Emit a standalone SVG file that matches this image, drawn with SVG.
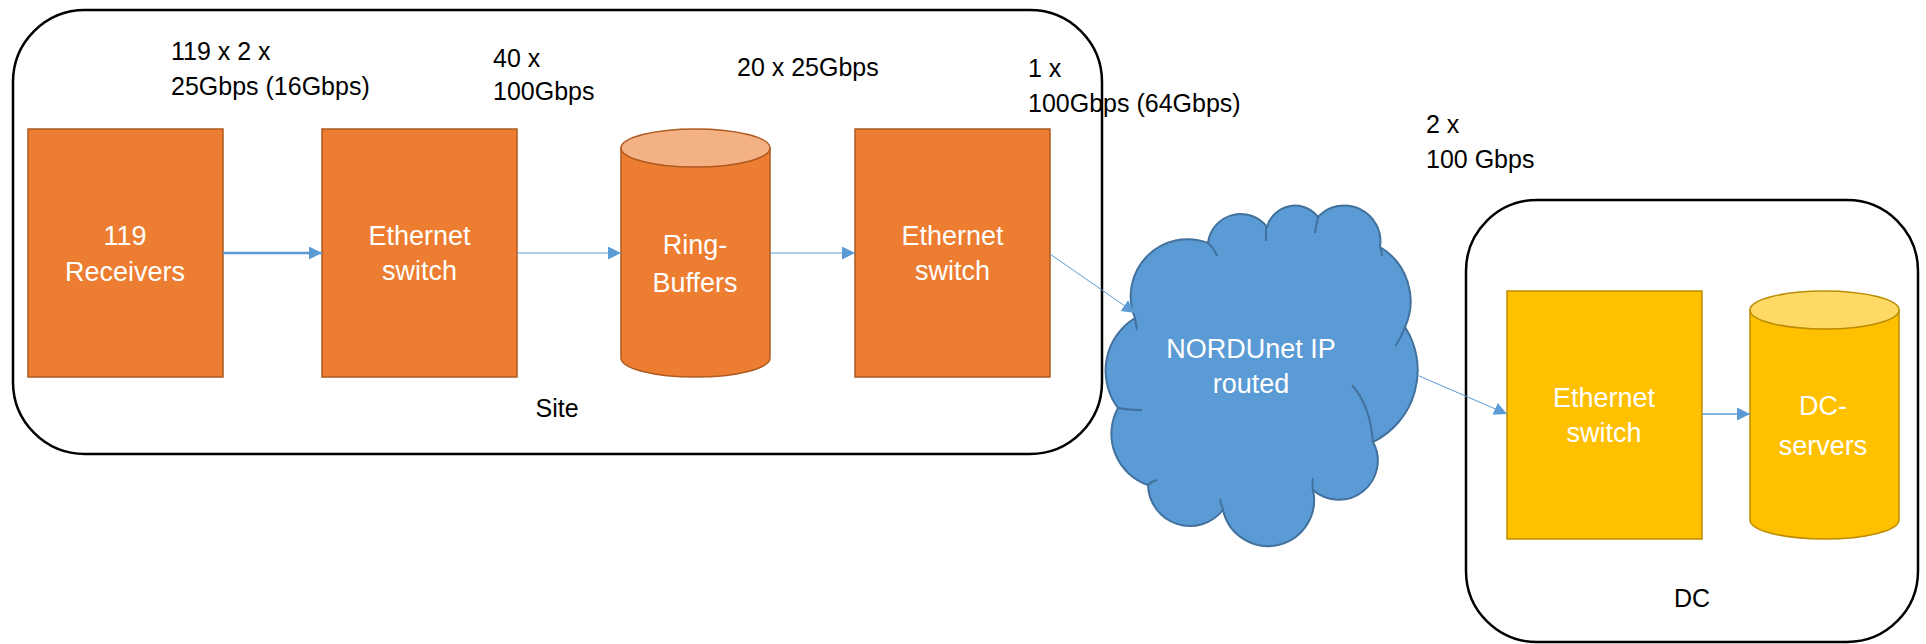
<svg xmlns="http://www.w3.org/2000/svg" width="1926" height="644" viewBox="0 0 1926 644">
<style>
.box{fill:none;stroke:#000;stroke-width:2.5}
.org{fill:#ED7D31;stroke:#AE5A21;stroke-width:1.5}
.orgTop{fill:#F4B183;stroke:#AE5A21;stroke-width:1.5}
.yel{fill:#FFC000;stroke:#BC8C00;stroke-width:1.5}
.yelTop{fill:#FFD966;stroke:#BC8C00;stroke-width:1.5}
.cloud{fill:#5B9BD5;stroke:#41719C;stroke-width:2}
.tail{fill:none;stroke:#41719C;stroke-width:2}
.lbl{font-family:"Liberation Sans",Arial,sans-serif;font-size:25px;fill:#000}
.nt{font-family:"Liberation Sans",Arial,sans-serif;font-size:27px;fill:#fff;text-anchor:middle}
.cn{stroke:#5B9BD5;stroke-width:1;fill:none;marker-end:url(#ah)}
</style>
<defs>
<marker id="ah" markerUnits="userSpaceOnUse" markerWidth="14" markerHeight="14" refX="13" refY="6.5" orient="auto" viewBox="0 0 14 14">
<path d="M0,0 L13,6.5 L0,13 Z" fill="#5B9BD5"/>
</marker>
</defs>
<g id="site">
<rect class="box" x="13" y="10" width="1089" height="444" rx="72" ry="72"/>
<text class="lbl" x="557" y="417" text-anchor="middle">Site</text>
</g>
<g id="dc">
<rect class="box" x="1466" y="200" width="452" height="442" rx="71" ry="71"/>
<text class="lbl" x="1692" y="607" text-anchor="middle">DC</text>
</g>
<g id="labels">
<text class="lbl" x="171" y="60">119 x 2 x</text>
<text class="lbl" x="171" y="95">25Gbps (16Gbps)</text>
<text class="lbl" x="493" y="67">40 x</text>
<text class="lbl" x="493" y="100">100Gbps</text>
<text class="lbl" x="737" y="76">20 x 25Gbps</text>
<text class="lbl" x="1028" y="77">1 x</text>
<text class="lbl" x="1028" y="112">100Gbps (64Gbps)</text>
<text class="lbl" x="1426" y="133">2 x</text>
<text class="lbl" x="1426" y="168">100 Gbps</text>
</g>
<g id="receivers">
<rect class="org" x="28" y="129" width="195" height="248"/>
<text class="nt" x="125" y="245">119</text>
<text class="nt" x="125" y="281">Receivers</text>
</g>
<g id="switch1">
<rect class="org" x="322" y="129" width="195" height="248"/>
<text class="nt" x="419.5" y="245">Ethernet</text>
<text class="nt" x="419.5" y="280">switch</text>
</g>
<g id="ringbuffers">
<path class="org" d="M621,148 L621,358 A74.5,19 0 0 0 770,358 L770,148 Z"/>
<ellipse class="orgTop" cx="695.5" cy="148" rx="74.5" ry="19"/>
<text class="nt" x="695" y="254">Ring-</text>
<text class="nt" x="695" y="292">Buffers</text>
</g>
<g id="switch2">
<rect class="org" x="855" y="129" width="195" height="248"/>
<text class="nt" x="952.5" y="245">Ethernet</text>
<text class="nt" x="952.5" y="280">switch</text>
</g>
<g id="nordunet">
<path class="cloud" d="M1135,318 A57,57 0 0 1 1208,243 A33,33 0 0 1 1267,227 A29,29 0 0 1 1318,217 A36,36 0 0 1 1380,247 A63,63 0 0 1 1405,327 A80,80 0 0 1 1373,442 A39,39 0 0 1 1313,490 A46,46 0 0 1 1223,510 A42,42 0 0 1 1148,485 A54,54 0 0 1 1118,408 A62,62 0 0 1 1135,318 Z"/>
<path class="tail" d="M1135,318 Q1136,323 1137,330 M1208,243 Q1214,248 1217,256 M1266,227 Q1266,234 1266,241 M1318,217 Q1316,225 1315,233 M1380,247 Q1382,251 1382,256 M1405,327 Q1401,338 1395,346 M1352,385 Q1370,405 1373,442 M1313,490 Q1312,484 1313,478 M1223,510 Q1221,504 1220,499 M1148,485 Q1152,481 1157,480 M1118,408 Q1128,410 1142,410"/>
<text class="nt" x="1251" y="358">NORDUnet IP</text>
<text class="nt" x="1251" y="393">routed</text>
</g>
<g id="dcswitch">
<rect class="yel" x="1507" y="291" width="195" height="248"/>
<text class="nt" x="1604" y="407">Ethernet</text>
<text class="nt" x="1604" y="442">switch</text>
</g>
<g id="dcservers">
<path class="yel" d="M1750,310 L1750,520 A74.5,19 0 0 0 1899,520 L1899,310 Z"/>
<ellipse class="yelTop" cx="1824.5" cy="310" rx="74.5" ry="19"/>
<text class="nt" x="1823" y="415">DC-</text>
<text class="nt" x="1823" y="455">servers</text>
</g>
<g id="connectors">
<line class="cn" x1="223" y1="253" x2="322" y2="253" style="stroke-width:2.5"/>
<line class="cn" x1="517" y1="253" x2="621" y2="253"/>
<line class="cn" x1="770" y1="253" x2="855" y2="253"/>
<line class="cn" x1="1050" y1="254" x2="1135" y2="313"/>
<line class="cn" x1="1417" y1="375" x2="1507" y2="414"/>
<line class="cn" x1="1702" y1="414" x2="1750" y2="414" style="stroke-width:1.5"/>
</g>
</svg>
